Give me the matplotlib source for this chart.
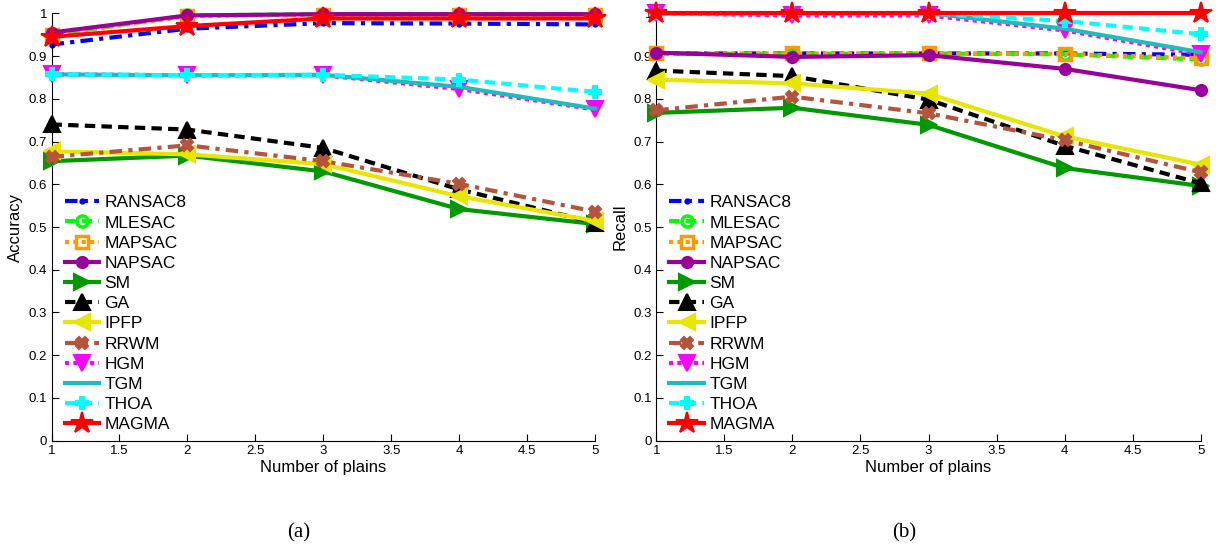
import matplotlib
matplotlib.use("Agg")
import matplotlib.pyplot as plt
import numpy as np

plt.rcParams['font.family'] = ['Liberation Sans', 'DejaVu Sans']

plains = [1, 2, 3, 4, 5]
methods = ['RANSAC8', 'MLESAC', 'MAPSAC', 'NAPSAC', 'SM', 'GA', 'IPFP',
           'RRWM', 'HGM', 'TGM', 'THOA', 'MAGMA']

# accuracy, panel (a)
acc_ransac8 = [0.927, 0.964, 0.977, 0.976, 0.974]
acc_mlesac = [0.950, 0.995, 0.998, 0.998, 0.998]
acc_mapsac = [0.950, 0.993, 0.997, 0.997, 0.997]
acc_napsac = [0.955, 0.995, 0.998, 0.998, 0.998]
acc_sm = [0.654, 0.667, 0.630, 0.542, 0.507]
acc_ga = [0.740, 0.728, 0.685, 0.588, 0.510]
acc_ipfp = [0.677, 0.670, 0.647, 0.572, 0.514]
acc_rrwm = [0.664, 0.691, 0.654, 0.601, 0.536]
acc_hgm = [0.857, 0.855, 0.855, 0.823, 0.775]
acc_tgm = [0.857, 0.855, 0.856, 0.828, 0.777]
acc_thoa = [0.857, 0.855, 0.856, 0.845, 0.816]
acc_magma = [0.945, 0.970, 0.988, 0.988, 0.988]

# recall, panel (b)
rec_ransac8 = [0.906, 0.906, 0.906, 0.906, 0.903]
rec_mlesac = [0.906, 0.905, 0.906, 0.904, 0.892]
rec_mapsac = [0.906, 0.906, 0.906, 0.905, 0.895]
rec_napsac = [0.908, 0.898, 0.902, 0.870, 0.820]
rec_sm = [0.767, 0.779, 0.739, 0.638, 0.596]
rec_ga = [0.866, 0.853, 0.798, 0.690, 0.602]
rec_ipfp = [0.845, 0.836, 0.812, 0.712, 0.646]
rec_rrwm = [0.773, 0.805, 0.766, 0.703, 0.628]
rec_hgm = [1.0, 0.995, 0.995, 0.960, 0.904]
rec_tgm = [1.0, 1.0, 1.0, 0.964, 0.909]
rec_thoa = [1.0, 1.0, 1.0, 0.982, 0.951]
rec_magma = [1.0, 1.0, 1.0, 1.0, 1.0]

xticks = [1, 1.5, 2, 2.5, 3, 3.5, 4, 4.5, 5]
xtick_labels = ['1', '1.5', '2', '2.5', '3', '3.5', '4', '4.5', '5']
yticks = [0, 0.1, 0.2, 0.3, 0.4, 0.5, 0.6, 0.7, 0.8, 0.9, 1.0]
ytick_labels = ['0', '0.1', '0.2', '0.3', '0.4', '0.5', '0.6', '0.7', '0.8', '0.9', '1']

# color, linestyle, marker, markersize, hollow marker
styles = {
    'RANSAC8': ('#0000ff', (0, (3, 1.5, 1, 1.5)), '.', 6, False),
    'MLESAC': ('#00ff00', (0, (2.5, 1.5)), 'o', 8, True),
    'MAPSAC': ('#ff9900', (0, (1, 1)), 's', 8, True),
    'NAPSAC': ('#990099', '-', 'o', 8, False),
    'SM': ('#009900', '-', '>', 11, False),
    'GA': ('#000000', (0, (2.5, 1.5)), '^', 11, False),
    'IPFP': ('#e6e600', '-', '<', 12, False),
    'RRWM': ('#b5543a', (0, (3, 1.5, 1, 1.5)), 'X', 8, False),
    'HGM': ('#ff00ff', (0, (1, 1)), 'v', 11, False),
    'TGM': ('#1fbcbc', '-', None, 0, False),
    'THOA': ('#00ffff', (0, (2.5, 1.5)), 'P', 9, False),
    'MAGMA': ('#ff0000', '-', '*', 16, False),
}

acc = [acc_ransac8, acc_mlesac, acc_mapsac, acc_napsac, acc_sm, acc_ga,
       acc_ipfp, acc_rrwm, acc_hgm, acc_tgm, acc_thoa, acc_magma]
rec = [rec_ransac8, rec_mlesac, rec_mapsac, rec_napsac, rec_sm, rec_ga,
       rec_ipfp, rec_rrwm, rec_hgm, rec_tgm, rec_thoa, rec_magma]

fig = plt.figure(figsize=(12.19, 5.49), dpi=100)
ax1 = fig.add_axes([51.5 / 1219, 1 - 440.7 / 549, (595 - 51.5) / 1219, 427.4 / 549])
ax2 = fig.add_axes([656.3 / 1219, 1 - 440.7 / 549, (1200.7 - 656.3) / 1219, 427.4 / 549])


def draw(ax, data, ylabel, tag):
    for k, (name, vals) in enumerate(zip(methods, data)):
        c, ls, mk, ms, hollow = styles[name]
        ax.plot(plains, vals, color=c, linestyle=ls, linewidth=3,
                marker=mk, markersize=ms,
                markeredgewidth=2.5 if hollow else 1.5,
                markerfacecolor='none' if hollow else c,
                label=name, clip_on=False, zorder=2 + k)
    ax.set_xlim(1, 5)
    ax.set_ylim(0, 1)
    ax.set_xticks(xticks)
    ax.set_xticklabels(xtick_labels)
    ax.set_yticks(yticks)
    ax.set_yticklabels(ytick_labels)
    ax.tick_params(direction='in', length=5, labelsize=9.5, width=0.8, pad=3)
    for s in ['top', 'right']:
        ax.spines[s].set_visible(False)
    ax.set_xlabel('Number of plains', fontsize=12, labelpad=2)
    ax.set_ylabel(ylabel, fontsize=12, labelpad=4)
    ax.legend(loc='lower left', bbox_to_anchor=(0.005, -0.005), frameon=False,
              fontsize=12.5, handlelength=2.0, handletextpad=0.3,
              labelspacing=0.29, borderaxespad=0.2)
    ax.text(0.455, -0.215, tag, transform=ax.transAxes, ha='center', va='center',
            fontsize=15, family='Liberation Serif')


draw(ax1, acc, 'Accuracy', '(a)')
draw(ax2, rec, 'Recall', '(b)')

fig.savefig('out.png', dpi=100)
